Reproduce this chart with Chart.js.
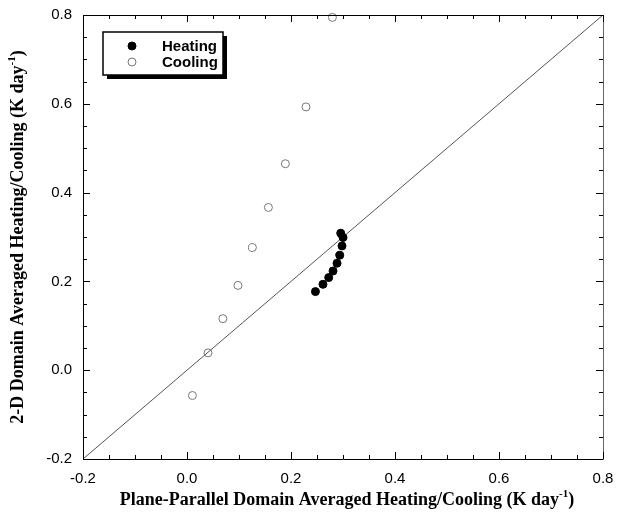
<!DOCTYPE html>
<html>
<head>
<meta charset="utf-8">
<script src="https://cdn.jsdelivr.net/npm/chart.js@4.4.0/dist/chart.umd.min.js"></script>
<style>
  html, body { margin: 0; padding: 0; background: #fff; }
  #wrap { width: 620px; height: 516px; }
</style>
</head>
<body>
<div id="wrap"><canvas id="myChart" width="620" height="516"></canvas></div>
<script>
// Heating (filled circles)
const heatX = [0.247, 0.2615, 0.2725, 0.2808, 0.2885, 0.2937, 0.2981, 0.300, 0.2956];
const heatY = [0.177, 0.1935, 0.2086, 0.2235, 0.2409, 0.2589, 0.2799, 0.2989, 0.3086];

// Cooling (open circles)
const coolX = [0.0104, 0.0404, 0.069, 0.098, 0.1258, 0.1565, 0.1892, 0.2288, 0.2796];
const coolY = [-0.057, 0.039, 0.116, 0.191, 0.2763, 0.3666, 0.465, 0.593, 0.7946];

// 1:1 reference line
const oneToOneX = [-0.2, 0.8];
const oneToOneY = [-0.2, 0.8];

// axis ticks
const xTicks = [-0.2, 0.0, 0.2, 0.4, 0.6, 0.8];
const yTicks = [-0.2, 0.0, 0.2, 0.4, 0.6, 0.8];

const xTitle = ['Plane-Parallel Domain Averaged Heating/Cooling (K day', '-1', ')'];
const yTitle = ['2-D Domain Averaged Heating/Cooling (K day', '-1', ')'];

const zip = (xs, ys) => xs.map((x, i) => ({ x: x, y: ys[i] }));

const tickFont = { family: 'Liberation Sans, Arial, sans-serif', size: 15 };

// texte avec exposant
function drawSupText(ctx, parts, cx, cy) {
    const mainFont = 'bold 18px "Liberation Serif", "Times New Roman", serif';
    const supFont = 'bold 11px "Liberation Serif", "Times New Roman", serif';
    ctx.font = mainFont;
    const w0 = ctx.measureText(parts[0]).width;
    const w2 = ctx.measureText(parts[2]).width;
    ctx.font = supFont;
    const w1 = ctx.measureText(parts[1]).width;
    let x = cx - (w0 + w1 + w2) / 2;
    ctx.textBaseline = 'middle';
    ctx.textAlign = 'left';
    ctx.fillStyle = '#000';
    ctx.font = mainFont;
    ctx.fillText(parts[0], x, cy);
    x += w0;
    ctx.font = supFont;
    ctx.fillText(parts[1], x, cy - 6);
    x += w1;
    ctx.font = mainFont;
    ctx.fillText(parts[2], x, cy);
}

// pas de marge supplementaire autour des axes
function noPadding(s) {
    s.paddingLeft = 0;
    s.paddingRight = 0;
    s.paddingTop = 0;
    s.paddingBottom = 0;
}

const framePlugin = {
    id: 'framePlugin',
    afterDatasetsDraw(chart) {
        const { ctx, chartArea: a, scales } = chart;
        const xs = scales.x, ys = scales.y;
        ctx.save();
        ctx.lineWidth = 1;

        // cadre
        ctx.strokeStyle = '#000';
        ctx.beginPath();
        ctx.moveTo(a.left + 0.5, a.top + 0.5);
        ctx.lineTo(a.left + 0.5, a.bottom + 0.5);
        ctx.lineTo(a.right + 0.5, a.bottom + 0.5);
        ctx.moveTo(a.left + 0.5, a.top + 0.5);
        ctx.lineTo(a.right + 0.5, a.top + 0.5);
        ctx.stroke();
        ctx.strokeStyle = '#666';
        ctx.beginPath();
        ctx.moveTo(a.right + 0.5, a.top + 0.5);
        ctx.lineTo(a.right + 0.5, a.bottom + 0.5);
        ctx.stroke();

        // graduations vers l'interieur
        ctx.strokeStyle = '#000';
        ctx.beginPath();
        for (let i = 0; i <= 20; i++) {
            const v = -0.2 + i * 0.05;
            const len = (i % 4 === 0) ? 7 : 4;
            const px = Math.round(xs.getPixelForValue(v)) + 0.5;
            const py = Math.round(ys.getPixelForValue(v)) + 0.5;
            ctx.moveTo(px, a.bottom);
            ctx.lineTo(px, a.bottom - len);
            ctx.moveTo(px, a.top);
            ctx.lineTo(px, a.top + len);
            ctx.moveTo(a.left, py);
            ctx.lineTo(a.left + len, py);
            ctx.moveTo(a.right, py);
            ctx.lineTo(a.right - len, py);
        }
        ctx.stroke();

        // legende
        const bx = 103, by = 32, bw = 120, bh = 43;
        ctx.fillStyle = '#000';
        ctx.fillRect(bx + 4, by + 4, bw, bh);
        ctx.fillStyle = '#fff';
        ctx.fillRect(bx, by, bw, bh);
        ctx.lineWidth = 1.5;
        ctx.strokeStyle = '#000';
        ctx.strokeRect(bx, by, bw, bh);

        const rows = [46, 62];
        chart.data.datasets.slice(0, 2).forEach((ds, i) => {
            ctx.beginPath();
            ctx.arc(132, rows[i], ds.pointRadius, 0, Math.PI * 2);
            ctx.fillStyle = ds.backgroundColor;
            ctx.fill();
            ctx.lineWidth = 1;
            ctx.strokeStyle = ds.borderColor;
            ctx.stroke();
            ctx.fillStyle = '#000';
            ctx.font = 'bold 15px "Liberation Sans", Arial, sans-serif';
            ctx.textAlign = 'left';
            ctx.textBaseline = 'middle';
            ctx.fillText(ds.label, 162, rows[i] + 1);
        });

        // titres des axes
        drawSupText(ctx, xTitle, (a.left + a.right) / 2 + 4, 500);
        ctx.translate(18, (a.top + a.bottom) / 2);
        ctx.rotate(-Math.PI / 2);
        drawSupText(ctx, yTitle, 0, 0);
        ctx.restore();
    }
};

const myChart = new Chart(document.getElementById('myChart').getContext('2d'), {
    type: 'scatter',
    data: {
        datasets: [{
            label: 'Heating',
            data: zip(heatX, heatY),
            pointRadius: 4,
            backgroundColor: '#000',
            borderColor: '#000',
            borderWidth: 1,
            clip: false
        }, {
            label: 'Cooling',
            data: zip(coolX, coolY),
            pointRadius: 4,
            backgroundColor: 'rgba(255,255,255,0)',
            borderColor: '#777',
            borderWidth: 1,
            clip: false
        }, {
            label: '1:1',
            data: zip(oneToOneX, oneToOneY),
            showLine: true,
            pointRadius: 0,
            borderColor: '#555',
            borderWidth: 1
        }]
    },
    options: {
        responsive: false,
        animation: false,
        layout: { padding: { top: 15, right: 17, bottom: 0, left: 0 } },
        plugins: {
            legend: { display: false },
            tooltip: { enabled: false }
        },
        scales: {
            x: {
                type: 'linear',
                min: -0.2,
                max: 0.8,
                afterBuildTicks: s => { s.ticks = xTicks.map(v => ({ value: v })); },
                afterFit: s => { s.height = 57; noPadding(s); },
                ticks: {
                    callback: v => v.toFixed(1),
                    font: tickFont,
                    color: '#000',
                    padding: 3,
                    maxRotation: 0,
                    autoSkip: false
                },
                grid: { display: false, drawTicks: true, tickLength: 8 },
                border: { display: false }
            },
            y: {
                type: 'linear',
                min: -0.2,
                max: 0.8,
                afterBuildTicks: s => { s.ticks = yTicks.map(v => ({ value: v })); },
                afterFit: s => { s.width = 83; noPadding(s); },
                ticks: {
                    callback: v => v.toFixed(1),
                    font: tickFont,
                    color: '#000',
                    padding: 3,
                    autoSkip: false
                },
                grid: { display: false, drawTicks: true, tickLength: 8 },
                border: { display: false }
            }
        }
    },
    plugins: [framePlugin]
});
</script>
</body>
</html>
